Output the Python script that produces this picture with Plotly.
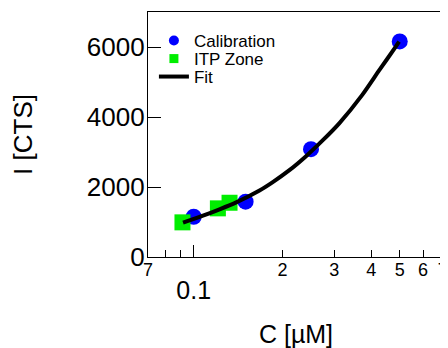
import math
import plotly.graph_objects as go

# Calibration points
cal_c = [0.10, 0.15, 0.25, 0.50]
cal_i = [1150, 1580, 3080, 6160]

# ITP zone points
itp_c = [0.0916, 0.1208, 0.1323]
itp_i = [990, 1390, 1550]

# Fit curve
fit_c = [0.0920, 0.1075, 0.1224, 0.1394, 0.1672, 0.1855, 0.2112, 0.2405,
         0.2737, 0.3117, 0.3737, 0.4256, 0.4848, 0.4975]
fit_i = [980, 1180, 1363, 1560, 1900, 2140, 2480, 2880,
         3330, 3820, 4640, 5330, 6009, 6151]

# Axis ticks
x_range = [0.07, 0.7]
x_tickvals = [0.07, 0.2, 0.3, 0.4, 0.5, 0.6, 0.7]
x_ticktext = ["7", "2", "3", "4", "5", "6", "7"]
x_minorvals = [0.08, 0.09]
x_decadevals = [0.1]
x_decadetext = ["0.1"]
y_tickvals = [0, 2000, 4000, 6000]
y_ticktext = ["0", "2000", "4000", "6000"]

FONT = "Liberation Sans, Arial, Helvetica, sans-serif"
BLUE = "#0000ff"
GREEN = "#00ee00"

fig = go.Figure()
fig.add_trace(go.Scatter(x=cal_c, y=cal_i, mode="markers", showlegend=False,
                         marker=dict(symbol="circle", size=16, color=BLUE)))
fig.add_trace(go.Scatter(x=itp_c, y=itp_i, mode="markers", showlegend=False,
                         marker=dict(symbol="square", size=16, color=GREEN)))
fig.add_trace(go.Scatter(x=fit_c, y=fit_i, mode="lines", showlegend=False,
                         line=dict(color="black", width=4, shape="spline", smoothing=0.6)))
# legend entries
fig.add_trace(go.Scatter(x=[None], y=[None], mode="markers", name="Calibration",
                         xaxis="x2", legend="legend",
                         marker=dict(symbol="circle", size=10, color=BLUE)))
fig.add_trace(go.Scatter(x=[None], y=[None], mode="markers", name="ITP Zone",
                         xaxis="x2", legend="legend2",
                         marker=dict(symbol="square", size=9, color=GREEN)))
fig.add_trace(go.Scatter(x=[None], y=[None], mode="lines", name="Fit",
                         xaxis="x2", legend="legend3",
                         line=dict(color="black", width=4)))

log_range = [math.log10(x_range[0]) - 1e-4, math.log10(x_range[1]) + 4e-3]
common_x = dict(type="log", range=log_range, showgrid=False,
                zeroline=False, automargin=False, ticklabeloverflow="allow",
                ticklabelposition="outside")

leg = dict(x=0.02, xanchor="left", yanchor="middle",
           bgcolor="rgba(0,0,0,0)", font=dict(size=17, family=FONT), itemwidth=30)

# the page body adds an 8px offset; the figure is a bit wider so edge labels are kept
fig.update_layout(
    width=456, height=340, autosize=False,
    margin=dict(l=140, r=20, t=4, b=91),
    paper_bgcolor="white", plot_bgcolor="white",
    font=dict(family=FONT, color="black"),
    xaxis=dict(**common_x,
               tickmode="array", tickvals=x_tickvals, ticktext=x_ticktext,
               ticks="inside", ticklen=7, tickwidth=1.3, tickcolor="black",
               tickfont=dict(size=18, family=FONT), ticklabelstandoff=-4,
               minor=dict(tickmode="array", tickvals=x_minorvals, ticks="inside",
                          ticklen=7, tickwidth=1.3, tickcolor="black", showgrid=False),
               showline=True, linecolor="black", linewidth=1.3, mirror=True,
               title=dict(text="C [µM]", font=dict(size=25, family=FONT), standoff=48)),
    xaxis2=dict(**common_x, overlaying="x", anchor="y", side="bottom",
                tickmode="array", tickvals=x_decadevals, ticktext=x_decadetext,
                ticks="inside", ticklen=12, tickwidth=1.3, tickcolor="black",
                tickfont=dict(size=25, family=FONT), ticklabelstandoff=16,
                showline=False),
    yaxis=dict(range=[0, 7000], tickmode="array", tickvals=y_tickvals, ticktext=y_ticktext,
               ticks="inside", ticklen=13, tickwidth=1.3, tickcolor="black",
               tickfont=dict(size=26, family=FONT), ticklabelstandoff=-3,
               showline=True, linecolor="black", linewidth=1.3, mirror=True,
               showgrid=False, zeroline=False, automargin=False,
               title=dict(text="I [CTS]", font=dict(size=26, family=FONT), standoff=46)),
    legend=dict(**leg, y=0.8816),
    legend2=dict(**leg, y=0.808),
    legend3=dict(**leg, y=0.7347),
)

fig.write_html("out.html")
